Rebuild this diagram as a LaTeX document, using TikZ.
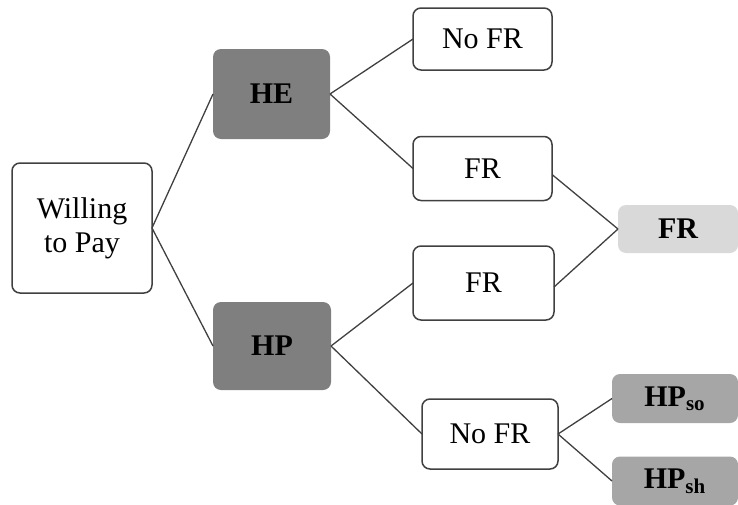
\documentclass[tikz,border=0pt]{standalone}
\usepackage{fontspec}
\setmainfont{Liberation Serif}
\usetikzlibrary{positioning}

\definecolor{darkbox}{HTML}{7F7F7F}
\definecolor{midbox}{HTML}{A6A6A6}
\definecolor{lightbox}{HTML}{D9D9D9}
\definecolor{edge}{HTML}{404040}

\begin{document}
\begin{tikzpicture}[
        x=0.5pt,
        y=-0.5pt,
        every node/.style={font=\fontsize{15}{17}\selectfont, align=center, inner sep=0pt, outer sep=0pt},
        plain/.style={draw=edge, line width=0.75pt, fill=white, rounded corners=4pt, minimum width=69.5pt, minimum height=32pt},
        dark/.style={fill=darkbox, rounded corners=4pt, font=\fontsize{15}{17}\selectfont\bfseries, minimum width=58.5pt, minimum height=45pt},
        result/.style={rounded corners=4pt, font=\fontsize{15}{17}\selectfont\bfseries, minimum height=24.5pt},
        link/.style={draw=edge, line width=0.65pt}
    ]
        \useasboundingbox (0,0) rectangle (738,504);
        \node[plain, minimum width=70pt, minimum height=65pt] (pay) at (82,228) {Willing\\to Pay};
        \node[dark] (he) at (271.5,94) {HE};
        \node[dark, minimum width=59pt, minimum height=44pt] (hp) at (272,346) {HP};

        \node[plain, minimum height=31pt] (nofrA) at (482.5,39) {No FR};
        \node[plain] (frA) at (482.5,168.5) {FR};
        \node[plain, minimum width=70.5pt, minimum height=37pt] (frB) at (483.5,283) {FR};
        \node[plain, minimum width=68pt, minimum height=35pt] (nofrB) at (490,434) {No FR};

        \node[result, fill=lightbox, minimum width=60pt, minimum height=24pt] (fr) at (678,229) {FR};
        \node[result, fill=midbox, minimum width=63pt] (hpso) at (675,398.5) {HP\textsubscript{so}};
        \node[result, fill=midbox, minimum width=63pt] (hpsh) at (675,481) {HP\textsubscript{sh}};

        \draw[link] (pay.east) -- (he.west);
        \draw[link] (pay.east) -- (hp.west);
        \draw[link] (he.east) -- (nofrA.west);
        \draw[link] (he.east) -- (frA.west);
        \draw[link] (hp.east) -- (frB.west);
        \draw[link] (hp.east) -- (nofrB.west);
        \draw[link] ([yshift=-3pt]frA.east) -- (fr.west);
        \draw[link] ([yshift=-2pt]frB.east) -- (fr.west);
        \draw[link] (nofrB.east) -- (hpso.west);
        \draw[link] (nofrB.east) -- (hpsh.west);
    \end{tikzpicture}
\end{document}
